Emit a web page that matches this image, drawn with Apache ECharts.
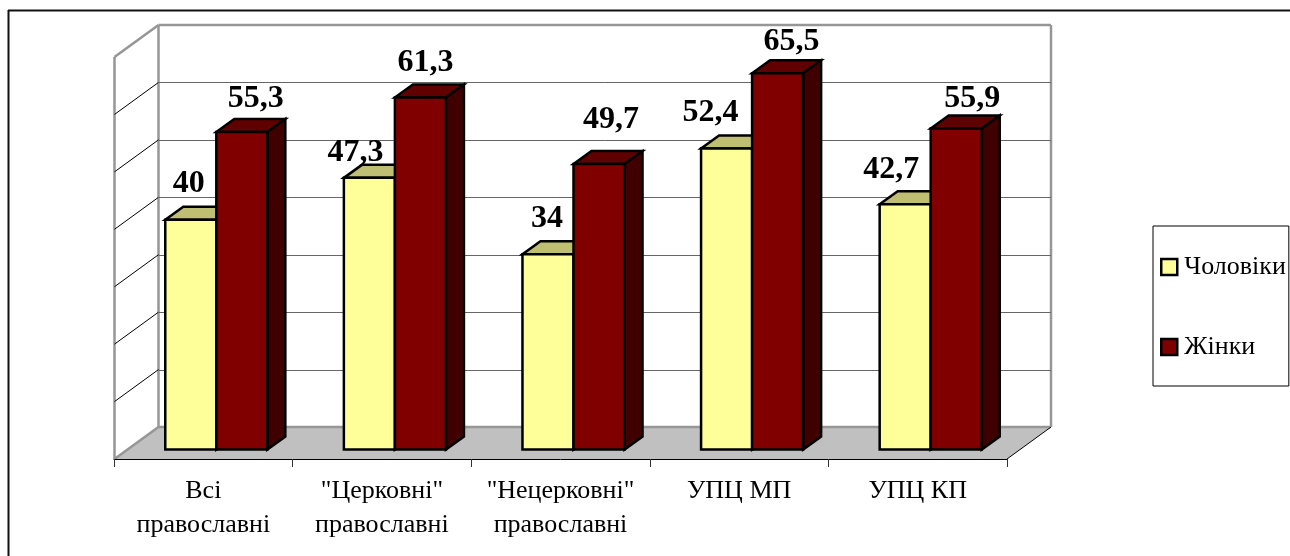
<!DOCTYPE html>
<html>
<head>
<meta charset="utf-8">
<title>Чоловіки і жінки</title>
<script src="https://cdn.jsdelivr.net/npm/echarts@6/dist/echarts.min.js"></script>
<style>
    html, body { margin: 0; padding: 0; background: #fff; }
    #chartContainer { width: 1290px; height: 556px; }
</style>
</head>
<body>
<div id="chartContainer"></div>
<script>
const categories = ['Всі\nправославні', '"Церковні"\nправославні', '"Нецерковні"\nправославні', 'УПЦ МП', 'УПЦ КП'];
const men = [40, 47.3, 34, 52.4, 42.7];
const women = [55.3, 61.3, 49.7, 65.5, 55.9];
const wallTicks = [0, 10, 20, 30, 40, 50, 60, 70];

// hand placement of the value labels, Excel scatters them around the bar tops
const menLabelShift = [[-2, -36], [-14, -25], [-1, -36], [-16, -36], [-14, -35]];
const womenLabelShift = [[14, -33], [5, -35], [12, -44], [14, -32], [16, -30]];

const FONT = '"Liberation Serif", "Times New Roman", serif';
const WALL = [44, -32];      // depth of the floor and side wall
const BAR_FRONT = [13, -9.5]; // where the bar's front face sits on the floor
const BAR_DEPTH = [18, -13];
const BAR_RATIO = 2 / 7;     // one bar, as a share of the category width
const WALL_COLOR = '#969696';

const snap = v => Math.round(v) + 0.5;

function line(x1, y1, x2, y2, stroke, lineWidth) {
    return {
        type: 'line',
        shape: { x1, y1, x2, y2 },
        style: { stroke, lineWidth }
    };
}

function poly(points, fill) {
    return {
        type: 'polygon',
        shape: { points },
        style: { fill, stroke: '#000', lineWidth: 2.5, lineJoin: 'miter' }
    };
}

function renderFloor(params, api) {
    const c = params.coordSys;
    const y = api.coord([0, 0])[1];
    const left = c.x, right = c.x + c.width;
    return {
        type: 'polygon',
        shape: { points: [[left, y], [right, y], [right + WALL[0], y + WALL[1]], [left + WALL[0], y + WALL[1]]] },
        style: { fill: '#c0c0c0' }
    };
}

function renderWallTick(params, api) {
    const c = params.coordSys;
    const v = api.value(0);
    const y = api.coord([0, v])[1];
    const left = c.x + 0.5, right = c.x + c.width;
    const backX = left + WALL[0], backY = y + WALL[1];
    const children = [];
    if (v === wallTicks[0] || v === wallTicks[wallTicks.length - 1]) {
        children.push(line(left, y, backX, backY, WALL_COLOR, 2.5));
        children.push(line(backX, backY, right + WALL[0], backY, WALL_COLOR, 2.5));
        if (v === wallTicks[0]) {
            children.push(line(right, y, right + WALL[0], backY, '#000', 1));
            children.push(line(left, y, left, c.y, WALL_COLOR, 2.5));
            children.push(line(backX, backY, backX, c.y + WALL[1], WALL_COLOR, 2.5));
            children.push(line(right + WALL[0], backY, right + WALL[0], c.y + WALL[1], WALL_COLOR, 2.5));
        }
    } else {
        children.push(line(left, y, backX, backY, '#000', 1));
        children.push(line(backX, snap(backY), right + WALL[0], snap(backY), '#666', 1));
    }
    return { type: 'group', children };
}

function barRenderer(side, front, topFill, sideFill) {
    return function (params, api) {
        const catW = api.size([1, 0])[0];
        const w = catW * BAR_RATIO;
        const top = api.coord([api.value(0), api.value(1)]);
        const bottom = api.coord([api.value(0), 0]);
        const x0 = top[0] + BAR_FRONT[0] + (side < 0 ? -w : 0);
        const x1 = x0 + w;
        const yT = top[1] + BAR_FRONT[1];
        const yB = bottom[1] + BAR_FRONT[1];
        const dx = BAR_DEPTH[0], dy = BAR_DEPTH[1];
        return {
            type: 'group',
            children: [
                poly([[x0, yT], [x1, yT], [x1 + dx, yT + dy], [x0 + dx, yT + dy]], topFill),
                poly([[x1, yT], [x1 + dx, yT + dy], [x1 + dx, yB + dy], [x1, yB]], sideFill),
                poly([[x0, yT], [x1, yT], [x1, yB], [x0, yB]], front)
            ]
        };
    };
}

function labelRenderer(side, shifts) {
    return function (params, api) {
        const w = api.size([1, 0])[0] * BAR_RATIO;
        const top = api.coord([api.value(0), api.value(1)]);
        const s = shifts[params.dataIndex];
        return {
            type: 'text',
            style: {
                text: String(api.value(1)).replace('.', ','),
                x: top[0] + BAR_FRONT[0] + side * w / 2 + s[0],
                y: top[1] + BAR_FRONT[1] + s[1],
                align: 'center',
                verticalAlign: 'middle',
                font: 'bold 32px ' + FONT,
                fill: '#000'
            }
        };
    };
}

const indexed = arr => arr.map((v, i) => [i, v]);
const dims = { encode: { x: 0, y: 1 } };

const chart = echarts.init(document.getElementById('chartContainer'));
chart.setOption({
    animation: false,
    backgroundColor: '#fff',
    grid: { left: 114, top: 57, width: 893, height: 402 },
    xAxis: {
        type: 'category',
        data: categories,
        z: 5,
        axisLine: { lineStyle: { color: '#000', width: 1 } },
        axisTick: { show: true, length: 8, lineStyle: { color: '#333' } },
        axisLabel: { interval: 0, fontFamily: FONT, fontSize: 26, color: '#000', lineHeight: 34, margin: 15 }
    },
    yAxis: {
        type: 'value',
        min: 0,
        max: 70,
        interval: 10,
        axisLine: { show: false },
        axisTick: { show: false },
        axisLabel: { show: false },
        splitLine: { show: false }
    },
    legend: {
        left: 1153,
        top: 226,
        orient: 'vertical',
        data: ['Чоловіки', 'Жінки'],
        icon: 'rect',
        itemWidth: 16,
        itemHeight: 16,
        itemGap: 54,
        padding: [28, 3, 26, 7],
        borderColor: '#000',
        borderWidth: 1,
        borderRadius: 0,
        itemStyle: { borderColor: '#000', borderWidth: 2.5 },
        textStyle: { fontFamily: FONT, fontSize: 26, color: '#000', padding: [0, 0, 0, 2] }
    },
    graphic: [
        { type: 'line', silent: true, shape: { x1: 8, y1: 10.5, x2: 1290, y2: 10.5 }, style: { stroke: '#111', lineWidth: 2 } },
        { type: 'line', silent: true, shape: { x1: 8.5, y1: 10, x2: 8.5, y2: 556 }, style: { stroke: '#111', lineWidth: 2 } }
    ],
    series: [
        { type: 'custom', silent: true, coordinateSystem: 'cartesian2d', data: [[0]], renderItem: renderFloor, encode: { y: 0 } },
        { type: 'custom', silent: true, coordinateSystem: 'cartesian2d', data: wallTicks.map(v => [v]), renderItem: renderWallTick, encode: { y: 0 } },
        {
            name: 'Чоловіки', type: 'custom', silent: true, data: indexed(men), ...dims,
            itemStyle: { color: '#ffff99' },
            renderItem: barRenderer(-1, '#ffff99', '#bfbf73', '#7f7f4c')
        },
        {
            name: 'Жінки', type: 'custom', silent: true, data: indexed(women), ...dims,
            itemStyle: { color: '#800000' },
            renderItem: barRenderer(1, '#800000', '#600000', '#400000')
        },
        { type: 'custom', silent: true, z: 6, data: indexed(men), ...dims, renderItem: labelRenderer(-1, menLabelShift) },
        { type: 'custom', silent: true, z: 6, data: indexed(women), ...dims, renderItem: labelRenderer(1, womenLabelShift) }
    ]
});

window.addEventListener('resize', () => { if (chart) chart.resize(); });
</script>
</body>
</html>
